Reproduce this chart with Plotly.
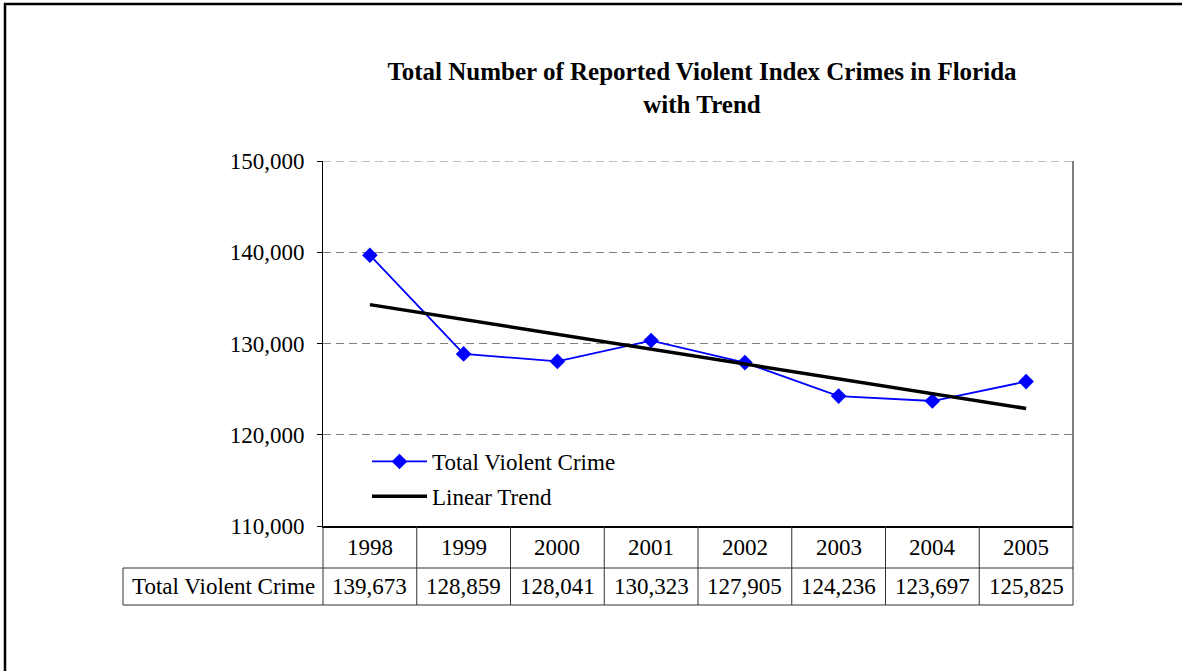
import numpy as np
import plotly.graph_objects as go

years = ["1998", "1999", "2000", "2001", "2002", "2003", "2004", "2005"]
violent = [139673, 128859, 128041, 130323, 127905, 124236, 123697, 125825]
series_name = "Total Violent Crime"
trend_name = "Linear Trend"
title_text = "Total Number of Reported Violent Index Crimes in Florida<br>with Trend"
y_ticks = [110000, 120000, 130000, 140000, 150000]

W, H = 1182, 671
idx = np.arange(len(years))
slope, intercept = np.polyfit(idx, violent, 1)
trend = slope * idx + intercept

FONT = "Liberation Serif, Times New Roman, serif"
FS = 23

# layout geometry (pixels -> paper)
px_l, px_r, px_t, px_b = 323, 1073, 161, 526
xd = [px_l / W, px_r / W]
yd = [1 - px_b / H, 1 - px_t / H]
row1_b = 1 - 568 / H
row2_b = 1 - 605 / H
label_l = 123 / W


def col_x(v):
    # category position (v in [-0.5, n-0.5]) -> paper x
    return xd[0] + (v + 0.5) / len(years) * (xd[1] - xd[0])


fig = go.Figure()
fig.add_trace(go.Scatter(
    x=idx, y=violent, mode="lines+markers", name=series_name,
    line=dict(color="#0000FF", width=1.8),
    marker=dict(symbol="diamond", size=12, color="#0000FF"),
    legendgroup="a",
))
fig.add_trace(go.Scatter(
    x=idx, y=trend, mode="lines", name=trend_name,
    line=dict(color="#000000", width=3.5),
    legendgroup="b",
))

shapes = []
line_col = "#333333"
# outer border (top & left visible)
shapes.append(dict(type="rect", xref="paper", yref="paper",
                   x0=5 / W, x1=1.02, y0=-0.02, y1=1 - 4 / H,
                   line=dict(color="black", width=2.5)))
# top dashed gridline at the range maximum
shapes.append(dict(type="line", xref="paper", yref="y",
                   x0=xd[0], x1=xd[1], y0=y_ticks[-1], y1=y_ticks[-1],
                   line=dict(color="#808080", width=1.2, dash="8px,5px")))
# right border of plot area
shapes.append(dict(type="line", xref="paper", yref="paper",
                   x0=xd[1], x1=xd[1], y0=yd[0], y1=yd[1],
                   line=dict(color="black", width=1)))
# table: vertical column lines
for k in range(len(years) + 1):
    xv = col_x(k - 0.5)
    shapes.append(dict(type="line", xref="paper", yref="paper",
                       x0=xv, x1=xv, y0=row2_b, y1=yd[0],
                       line=dict(color=line_col, width=1)))
# label cell left border
shapes.append(dict(type="line", xref="paper", yref="paper",
                   x0=label_l, x1=label_l, y0=row2_b, y1=row1_b,
                   line=dict(color=line_col, width=1)))
# horizontal table lines
for yy in (row1_b, row2_b):
    shapes.append(dict(type="line", xref="paper", yref="paper",
                       x0=label_l, x1=xd[1], y0=yy, y1=yy,
                       line=dict(color=line_col, width=1)))

annotations = []
row1_c = (yd[0] + row1_b) / 2
row2_c = (row1_b + row2_b) / 2
for k, (yr, v) in enumerate(zip(years, violent)):
    annotations.append(dict(xref="paper", yref="paper", x=col_x(k), y=row1_c,
                            text=yr, showarrow=False, xanchor="center", yanchor="middle",
                            font=dict(family=FONT, size=FS, color="black")))
    annotations.append(dict(xref="paper", yref="paper", x=col_x(k), y=row2_c,
                            text=f"{v:,}", showarrow=False, xanchor="center", yanchor="middle",
                            font=dict(family=FONT, size=FS, color="black")))
annotations.append(dict(xref="paper", yref="paper", x=(label_l + xd[0]) / 2, y=row2_c,
                        text=series_name, showarrow=False, xanchor="center", yanchor="middle",
                        font=dict(family=FONT, size=FS, color="black")))

fig.update_layout(
    width=W, height=H,
    margin=dict(l=0, r=0, t=0, b=0, pad=0, autoexpand=False),
    paper_bgcolor="white", plot_bgcolor="white",
    title=dict(text=title_text, x=702 / W, xanchor="center", y=1 - 80 / H, yanchor="top",
               font=dict(family=FONT, size=25, color="black", weight="bold")),
    showlegend=True,
    legend=dict(x=367 / W, y=1 - 440 / H, xanchor="left", yanchor="top",
                bgcolor="rgba(0,0,0,0)", borderwidth=0, itemwidth=55,
                tracegroupgap=2,
                font=dict(family=FONT, size=FS, color="black")),
    xaxis=dict(domain=xd, range=[-0.5, len(years) - 0.5], showgrid=False, zeroline=False,
               automargin=False,
               showticklabels=False, ticks="", showline=True, linecolor="black", linewidth=2),
    yaxis=dict(domain=yd, range=[y_ticks[0], y_ticks[-1]], tickvals=y_ticks, tickformat=",",
               automargin=False,
               showgrid=True, gridcolor="#808080", gridwidth=1.2, griddash="8px,5px",
               zeroline=False, showline=True, linecolor="black", linewidth=1,
               ticks="outside", ticklen=5, tickcolor="black", ticklabelstandoff=8,
               tickfont=dict(family=FONT, size=FS, color="black")),
    shapes=shapes,
    annotations=annotations,
)

fig.write_html("out.html", config={"displayModeBar": False},
               post_script="document.body.style.margin='0';")
